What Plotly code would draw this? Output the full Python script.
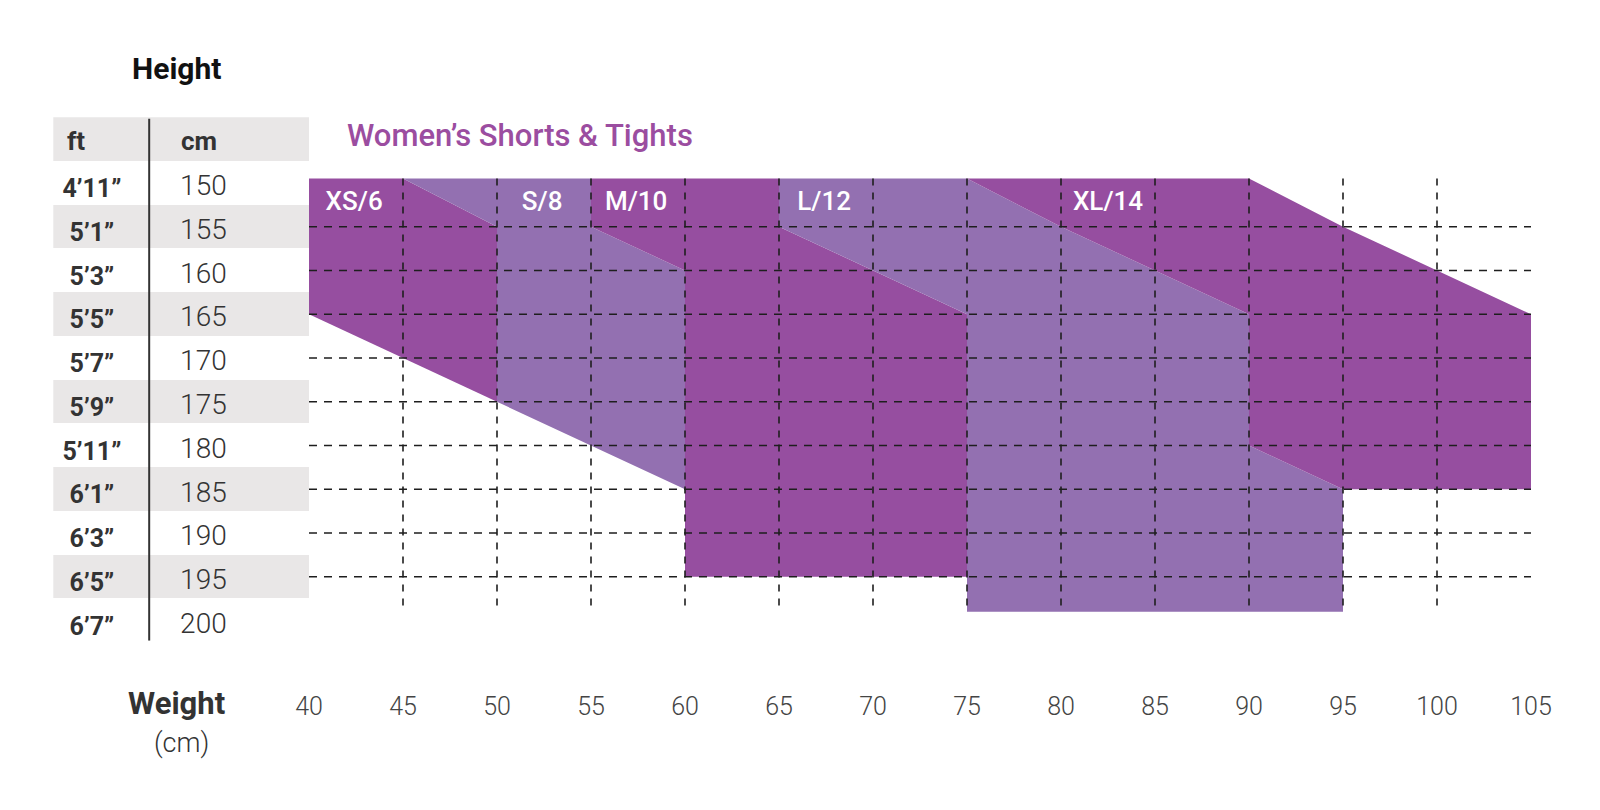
import plotly.graph_objects as go

# Axis values
weights = [40, 45, 50, 55, 60, 65, 70, 75, 80, 85, 90, 95, 100, 105]
heights_cm = [150, 155, 160, 165, 170, 175, 180, 185, 190, 195, 200]
heights_ft = ["4’11”", "5’1”", "5’3”", "5’5”", "5’7”", "5’9”", "5’11”",
              "6’1”", "6’3”", "6’5”", "6’7”"]
grid_heights = [155, 160, 165, 170, 175, 180, 185, 190, 195]
grid_weights = [45, 50, 55, 60, 65, 70, 75, 80, 85, 90, 95, 100]
band_rows = [145, 155, 165, 175, 185, 195]  # shaded rows of the height table

# Size regions (weight kg, height cm)
xs_w = [40, 45, 50, 50, 40]
xs_h = [149.5, 149.5, 155, 175, 165]
s_w = [45, 55, 55, 60, 60, 50, 50]
s_h = [149.5, 149.5, 155, 160, 185, 175, 155]
m_w = [55, 65, 65, 75, 75, 60, 60, 55]
m_h = [149.5, 149.5, 155, 165, 195, 195, 160, 155]
l_w = [65, 75, 80, 90, 90, 95, 95, 75, 75, 65]
l_h = [149.5, 149.5, 155, 165, 180, 185, 199, 199, 165, 155]
xl_w = [75, 90, 95, 100, 105, 105, 95, 90, 90, 80]
xl_h = [149.5, 149.5, 155, 160, 165, 185, 185, 180, 165, 155]

size_labels = ["XS/6", "S/8", "M/10", "L/12", "XL/14"]
label_w = [42.4, 52.4, 57.4, 67.4, 82.5]
label_h = [152.4, 152.4, 152.4, 152.4, 152.4]

DARK = "#964EA0"
LIGHT = "#9370B1"
GRID_TOP, GRID_BOTTOM = 149.5, 199

# the page body has an 8px margin, so the figure is 1584x794 inside it
W, H, OFF = 1584, 794, 8


def fx(px):
    return (px - OFF) / W


def fy(py):
    return 1 - (py - OFF) / H


fig = go.Figure()

# Height table background bands (on the left x-axis)
fig.add_trace(go.Bar(
    y=band_rows, x=[1] * len(band_rows), base=0, width=5, orientation="h",
    marker_color="#E9E7E7", marker_line_width=0,
    xaxis="x2", yaxis="y", hoverinfo="skip", showlegend=False
))
# divider line between ft and cm columns
fig.add_trace(go.Scatter(
    x=[0.375, 0.375], y=[142.66, 202.3], mode="lines",
    line=dict(color="#333333", width=2),
    xaxis="x2", yaxis="y", hoverinfo="skip", showlegend=False
))
# column headers
fig.add_trace(go.Scatter(
    x=[0.089, 0.57], y=[145.5, 145.5], mode="text", text=["ft", "cm"],
    textfont=dict(family="Roboto", size=26, color="#333333", weight=700),
    xaxis="x2", yaxis="y", hoverinfo="skip", showlegend=False
))
fig.add_trace(go.Scatter(
    x=[0.151] * len(heights_ft), y=[h + 0.9 for h in heights_cm], mode="text",
    text=heights_ft,
    textfont=dict(family="Roboto", size=25, color="#333333", weight=700),
    xaxis="x2", yaxis="y", hoverinfo="skip", showlegend=False
))
fig.add_trace(go.Scatter(
    x=[0.587] * len(heights_cm), y=[h + 0.6 for h in heights_cm], mode="text",
    text=[str(h) for h in heights_cm],
    textfont=dict(family="Roboto", size=28, color="#333333", weight=300),
    xaxis="x2", yaxis="y", hoverinfo="skip", showlegend=False
))

# Size regions
regions = [(xs_w, xs_h, DARK), (s_w, s_h, LIGHT), (m_w, m_h, DARK),
           (l_w, l_h, LIGHT), (xl_w, xl_h, DARK)]
for w, h, color in regions:
    fig.add_trace(go.Scatter(
        x=w + [w[0]], y=h + [h[0]], mode="lines", fill="toself",
        fillcolor=color, line=dict(width=0, color=color),
        hoverinfo="skip", showlegend=False
    ))

# Dashed grid drawn over the regions
hx, hy = [], []
for h in grid_heights:
    hx += [40, 105, None]
    hy += [h, h, None]
fig.add_trace(go.Scatter(
    x=hx, y=hy, mode="lines",
    line=dict(color="#1E1E1E", width=1.6, dash="8px,7px"),
    hoverinfo="skip", showlegend=False
))
vx, vy = [], []
for w in grid_weights:
    vx += [w, w, None]
    vy += [GRID_TOP, GRID_BOTTOM, None]
fig.add_trace(go.Scatter(
    x=vx, y=vy, mode="lines",
    line=dict(color="#1E1E1E", width=1.6, dash="7px,7px"),
    hoverinfo="skip", showlegend=False
))

# Size labels
fig.add_trace(go.Scatter(
    x=label_w, y=label_h, mode="text", text=size_labels,
    textfont=dict(family="Roboto", size=26, color="white", weight=500),
    hoverinfo="skip", showlegend=False
))

fig.update_layout(
    width=W, height=H,
    margin=dict(l=0, r=0, t=0, b=0, autoexpand=False),
    paper_bgcolor="white", plot_bgcolor="white",
    bargap=0,
    xaxis=dict(
        domain=[fx(309), fx(1531)], range=[40, 105], anchor="y",
        tickvals=weights, ticktext=[str(w) for w in weights],
        tickfont=dict(family="Roboto", size=25, color="#444444", weight=300),
        ticks="", showgrid=False, zeroline=False, showline=False,
        ticklabelstandoff=48, automargin=False
    ),
    xaxis2=dict(domain=[fx(53.3), fx(309)], range=[0, 1], anchor="y",
                visible=False, automargin=False),
    yaxis=dict(domain=[fy(640.7), fy(117.3)], range=[202.3, 142.5],
               visible=False, automargin=False),
    annotations=[
        dict(text="Height", x=fx(176.7), y=fy(68), xref="paper", yref="paper",
             xanchor="center", yanchor="middle", showarrow=False,
             font=dict(family="Roboto", size=30, color="#111111", weight=700)),
        dict(text="Women’s Shorts & Tights", x=fx(520), y=fy(136),
             xref="paper", yref="paper", xanchor="center", yanchor="middle",
             showarrow=False,
             font=dict(family="Roboto", size=31, color="#9B4DA0", weight=500)),
        dict(text="Weight", x=fx(176.7), y=fy(703), xref="paper", yref="paper",
             xanchor="center", yanchor="middle", showarrow=False,
             font=dict(family="Roboto", size=31, color="#333333", weight=700)),
        dict(text="(cm)", x=fx(181), y=fy(743), xref="paper", yref="paper",
             xanchor="center", yanchor="middle", showarrow=False,
             font=dict(family="Roboto", size=27, color="#333333", weight=300)),
    ]
)

fig.write_html("out.html")
